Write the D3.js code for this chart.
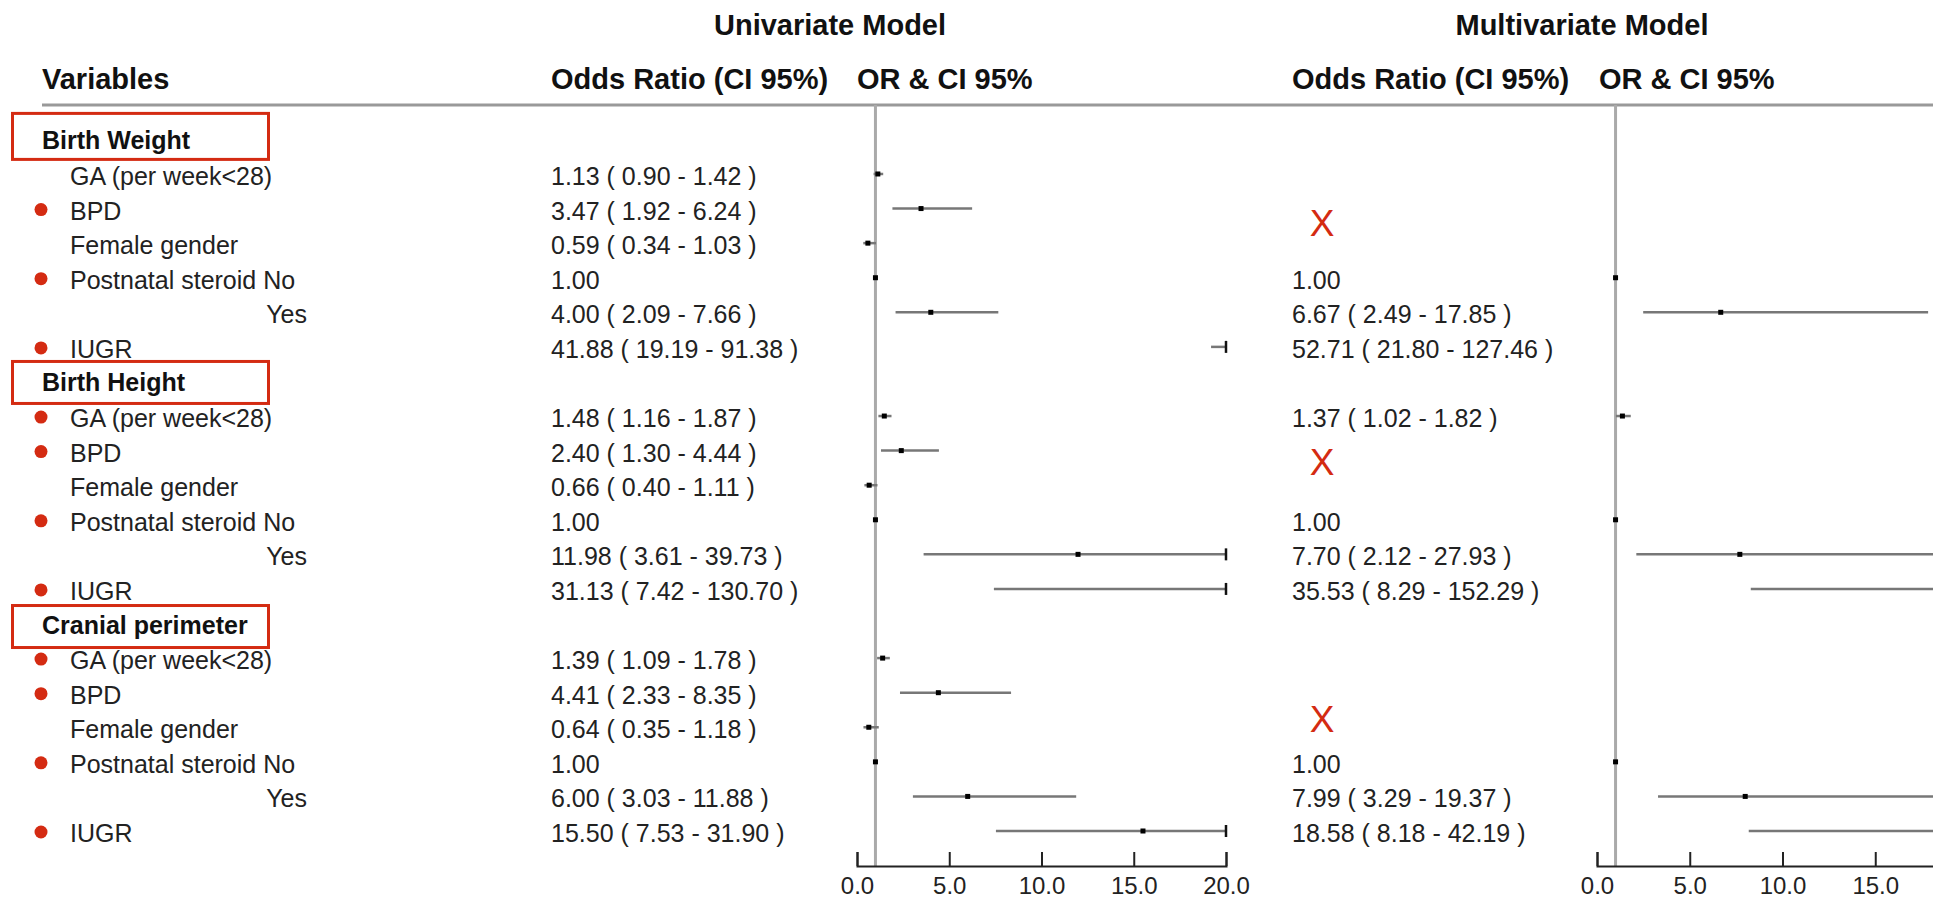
<!DOCTYPE html>
<html>
<head>
<meta charset="utf-8">
<script src="https://cdn.jsdelivr.net/npm/d3@7"></script>
<style>
  body { margin: 0; background: #fff; }
  svg { display: block; font-family: "Liberation Sans", Arial, Helvetica, sans-serif; }
  .head { font-weight: bold; font-size: 29px; fill: #111; }
  .section { font-weight: bold; font-size: 25px; fill: #111; }
  .row { font-size: 25px; fill: #222; }
  .axis path, .axis line { stroke: #222; stroke-width: 2; }
  .axis text { font-size: 24px; fill: #222; font-family: "Liberation Sans", Arial, sans-serif; }
</style>
</head>
<body>
<div id="chart"></div>
<script>
// data
const sections = ['Birth Weight', 'Birth Height', 'Cranial perimeter'];
const variables = ['GA (per week<28)', 'BPD', 'Female gender', 'Postnatal steroid No', 'Yes', 'IUGR'];

// univariate model, 6 values per section
const uniOR = [1.13, 3.47, 0.59, 1.00, 4.00, 41.88, 1.48, 2.40, 0.66, 1.00, 11.98, 31.13, 1.39, 4.41, 0.64, 1.00, 6.00, 15.50];
const uniLo = [0.90, 1.92, 0.34, null, 2.09, 19.19, 1.16, 1.30, 0.40, null, 3.61, 7.42, 1.09, 2.33, 0.35, null, 3.03, 7.53];
const uniHi = [1.42, 6.24, 1.03, null, 7.66, 91.38, 1.87, 4.44, 1.11, null, 39.73, 130.70, 1.78, 8.35, 1.18, null, 11.88, 31.90];

// multivariate model (null = not kept in the model)
const multiOR = [null, null, null, 1.00, 6.67, 52.71, 1.37, null, null, 1.00, 7.70, 35.53, null, null, null, 1.00, 7.99, 18.58];
const multiLo = [null, null, null, null, 2.49, 21.80, 1.02, null, null, null, 2.12, 8.29, null, null, null, null, 3.29, 8.18];
const multiHi = [null, null, null, null, 17.85, 127.46, 1.82, null, null, null, 27.93, 152.29, null, null, null, null, 19.37, 42.19];

// red dot marks in front of the variable name
const flagged = [false, true, false, true, false, true, true, true, false, true, false, true, true, true, false, true, false, true];

const axisTicks = [0, 5, 10, 15, 20];

const width = 1933;
const height = 905;
const red = '#d42b12';
const ruleY = 105;
const axisY = 866;

const svg = d3.select('#chart').append('svg')
  .attr('width', width)
  .attr('height', height);

// build the table rows: a header per section then its variables
const rows = [];
sections.forEach((s, si) => {
  rows.push({ type: 'section', label: s, si: si });
  variables.forEach((v, vi) => {
    rows.push({ type: 'var', label: v, si: si, vi: vi, k: si * variables.length + vi });
  });
});

const y = d3.scalePoint()
  .domain(d3.range(rows.length))
  .range([139.4, 831]);

const xUni = d3.scaleLinear().domain([0, 20]).range([857, 1226]);
const xMulti = d3.scaleLinear().domain([0, 20]).range([1597, 1968]);

const f2 = d3.format('.2f');
function orLabel(or, lo, hi) {
  if (or == null) return '';
  if (lo == null) return f2(or);
  return `${f2(or)} ( ${f2(lo)} - ${f2(hi)} )`;
}

// titles
svg.append('text').attr('class', 'head')
  .attr('x', 830).attr('y', 35).attr('text-anchor', 'middle')
  .text('Univariate Model');
svg.append('text').attr('class', 'head')
  .attr('x', 1582).attr('y', 35).attr('text-anchor', 'middle')
  .text('Multivariate Model');

// column headers
const heads = [
  { t: 'Variables', x: 42 },
  { t: 'Odds Ratio (CI 95%)', x: 551 },
  { t: 'OR & CI 95%', x: xUni(0) },
  { t: 'Odds Ratio (CI 95%)', x: 1292 },
  { t: 'OR & CI 95%', x: xMulti(0) + 2 }
];
svg.selectAll('.colhead')
  .data(heads)
  .enter()
  .append('text')
  .attr('class', 'head')
  .attr('x', d => d.x)
  .attr('y', 89)
  .text(d => d.t);

svg.append('line')
  .attr('x1', 42).attr('x2', width)
  .attr('y1', ruleY).attr('y2', ruleY)
  .style('stroke', '#999').style('stroke-width', 3);

// section labels with their red boxes
const boxes = [
  { top: 26, bottom: 20, w: 256 },
  { top: 20, bottom: 22, w: 256 },
  { top: 18, bottom: 24, w: 256 }
];
const secRows = rows.map((r, i) => Object.assign({ i: i }, r)).filter(r => r.type === 'section');

svg.selectAll('.secbox')
  .data(secRows)
  .enter()
  .append('rect')
  .attr('x', 12.5)
  .attr('y', d => y(d.i) - boxes[d.si].top)
  .attr('width', d => boxes[d.si].w)
  .attr('height', d => boxes[d.si].top + boxes[d.si].bottom)
  .style('fill', 'none')
  .style('stroke', red)
  .style('stroke-width', 3);

svg.selectAll('.section')
  .data(secRows)
  .enter()
  .append('text')
  .attr('class', 'section')
  .attr('x', 42)
  .attr('y', d => y(d.i) + 10)
  .text(d => d.label);

// variable rows
const varRows = rows.map((r, i) => Object.assign({ i: i }, r)).filter(r => r.type === 'var');

svg.selectAll('.row')
  .data(varRows)
  .enter()
  .append('text')
  .attr('class', 'row')
  .attr('x', d => d.label === 'Yes' ? 307 : 70)
  .attr('text-anchor', d => d.label === 'Yes' ? 'end' : 'start')
  .attr('y', d => y(d.i) + 11)
  .text(d => d.label);

svg.selectAll('.flag')
  .data(varRows.filter(d => flagged[d.k]))
  .enter()
  .append('circle')
  .attr('cx', 41)
  .attr('cy', d => y(d.i) + 1)
  .attr('r', 6.5)
  .style('fill', red);

// odds ratio texts
svg.selectAll('.uni-txt')
  .data(varRows)
  .enter()
  .append('text')
  .attr('class', 'row')
  .attr('x', 551)
  .attr('y', d => y(d.i) + 11)
  .text(d => orLabel(uniOR[d.k], uniLo[d.k], uniHi[d.k]));

svg.selectAll('.multi-txt')
  .data(varRows)
  .enter()
  .append('text')
  .attr('class', 'row')
  .attr('x', 1292)
  .attr('y', d => y(d.i) + 11)
  .text(d => orLabel(multiOR[d.k], multiLo[d.k], multiHi[d.k]));

// red X where female gender was dropped from the multivariate model
const xShift = [-20, -23, -8];
svg.selectAll('.dropped')
  .data(varRows.filter(d => d.label === 'Female gender'))
  .enter()
  .append('text')
  .attr('x', 1322)
  .attr('y', d => y(d.i) + xShift[d.si] + 13)
  .attr('text-anchor', 'middle')
  .style('font-size', '37px')
  .style('fill', red)
  .text('X');

// one forest panel
function drawPanel(x, ors, los, his) {
  const g = svg.append('g');
  const [lo0, hi0] = x.domain();

  g.append('line')
    .attr('x1', x(1)).attr('x2', x(1))
    .attr('y1', ruleY).attr('y2', axisY)
    .style('stroke', '#aaa').style('stroke-width', 3);

  const ci = varRows.filter(d => los[d.k] != null && los[d.k] < hi0);
  g.selectAll('.ci')
    .data(ci)
    .enter()
    .append('line')
    .attr('x1', d => x(Math.max(los[d.k], lo0)))
    .attr('x2', d => x(Math.min(his[d.k], hi0)))
    .attr('y1', d => y(d.i))
    .attr('y2', d => y(d.i))
    .style('stroke', '#777')
    .style('stroke-width', 2.5);

  // cut-off mark where the interval runs past the axis
  g.selectAll('.cut')
    .data(ci.filter(d => his[d.k] > hi0))
    .enter()
    .append('line')
    .attr('x1', x(hi0)).attr('x2', x(hi0))
    .attr('y1', d => y(d.i) - 6)
    .attr('y2', d => y(d.i) + 6)
    .style('stroke', '#111')
    .style('stroke-width', 2.5);

  g.selectAll('.pt')
    .data(varRows.filter(d => ors[d.k] != null && ors[d.k] <= hi0))
    .enter()
    .append('rect')
    .attr('x', d => x(ors[d.k]) - 2.5)
    .attr('y', d => y(d.i) - 2.5)
    .attr('width', 5)
    .attr('height', 5)
    .style('fill', '#000');

  // the right panel runs past the picture edge, label only what is visible
  const axis = d3.axisBottom(x)
    .tickValues(axisTicks.filter(t => x(t) < width))
    .tickFormat(d3.format('.1f'))
    .tickSizeInner(-14)
    .tickSizeOuter(-14)
    .tickPadding(11);

  g.append('g')
    .attr('class', 'axis')
    .attr('transform', `translate(0,${axisY})`)
    .call(axis);
}

drawPanel(xUni, uniOR, uniLo, uniHi);
drawPanel(xMulti, multiOR, multiLo, multiHi);
</script>
</body>
</html>
